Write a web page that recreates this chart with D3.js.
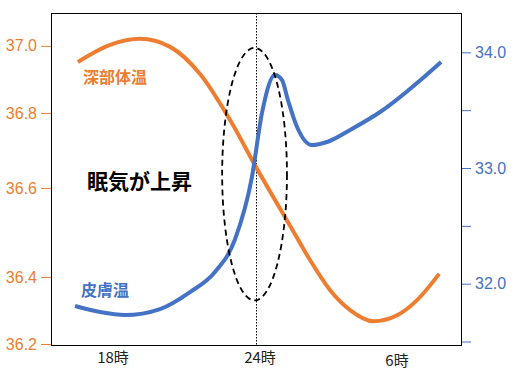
<!DOCTYPE html>
<html>
<head>
<meta charset="utf-8">
<script src="https://cdn.jsdelivr.net/npm/d3@7"></script>
<style>
  body { margin: 0; background: #fff; }
  text { font-family: "Noto Sans CJK JP", "Noto Sans", sans-serif; }
</style>
</head>
<body>
<svg width="518" height="372"></svg>
<script>
// hours (24 = midnight, 30 = 6時)
const deepHours = [16.58, 17.92, 19.17, 20.42, 21.67, 22.92, 24.0, 25.42, 26.25, 27.08, 27.92, 28.88, 29.88, 30.71, 31.63];
const deepTemp  = [36.952, 37.003, 37.021, 36.997, 36.916, 36.781, 36.656, 36.515, 36.438, 36.361, 36.301, 36.268, 36.286, 36.331, 36.407];

const skinHours = [16.46, 17.5, 18.54, 20.0, 21.25, 22.29, 23.13, 23.83, 24.25, 24.79, 25.08, 25.33, 25.71, 26.33, 26.96, 27.92, 29.17, 31.71];
const skinTemp  = [31.807, 31.755, 31.729, 31.781, 31.928, 32.101, 32.386, 32.922, 33.476, 33.804, 33.761, 33.588, 33.355, 33.199, 33.225, 33.329, 33.484, 33.916];

const leftTicks = [36.2, 36.4, 36.6, 36.8, 37.0];
const rightTicks = [31.5, 32.0, 32.5, 33.0, 33.5, 34.0];
const xTicks = [18, 24, 30];
const xTickLabels = ["18時", "24時", "6時"];

// annotation ellipse: centre hour, top / bottom (left-axis units), half width in hours
const ellipseHour = 23.94, ellipseTop = 36.994, ellipseBottom = 36.33, ellipseHalfHours = 1.35;

const orange = "#ED7D31", blue = "#4472C4";

const svg = d3.select("svg"),
      pLeft = 51, pRight = 461, pTop = 13, pBottom = 345,
      h = pBottom - pTop;

const x = d3.scaleLinear().domain([15.46, 32.54]).range([pLeft, pRight]);
// left axis in the picture is not evenly spaced
const yL = d3.scaleLinear().domain(leftTicks)
  .range([pBottom - 1, pBottom - 0.205 * h, pBottom - 0.473 * h, pBottom - 0.699 * h, pBottom - 0.901 * h]);
const yR = d3.scaleLinear().domain([31.47, 34.34]).range([pBottom, pTop]);

// axes
const gL = svg.append("g").attr("transform", `translate(${pLeft},0)`)
  .call(d3.axisLeft(yL).tickValues(leftTicks).tickSize(10).tickPadding(4).tickFormat(d3.format(".1f")));
gL.select(".domain").remove();
gL.selectAll("line").attr("stroke", orange);
gL.selectAll("text").attr("fill", orange).style("font-size", "16px").style("font-family", "'Liberation Sans', sans-serif");

const gR = svg.append("g").attr("transform", `translate(${pRight},0)`)
  .call(d3.axisRight(yR).tickValues(rightTicks).tickSize(10).tickPadding(4)
    .tickFormat(d => d % 1 === 0 ? d3.format(".1f")(d) : ""));
gR.select(".domain").remove();
gR.selectAll("line").attr("stroke", blue);
gR.selectAll("text").attr("fill", blue).style("font-size", "16px").style("font-family", "'Liberation Sans', sans-serif");

svg.append("g").selectAll("text")
  .data(xTicks)
  .enter().append("text")
  .attr("x", (d, i) => x(d) + [1, 4, -3][i])
  .attr("y", (d, i) => pBottom + [18, 18, 21][i])
  .attr("text-anchor", "middle")
  .attr("fill", "#222")
  .style("font-size", "15px")
  .text((d, i) => xTickLabels[i]);

// frame
svg.append("rect")
  .attr("x", pLeft + 0.5).attr("y", pTop + 0.5)
  .attr("width", pRight - pLeft).attr("height", pBottom - pTop)
  .attr("fill", "none").attr("stroke", "#000").attr("stroke-width", 1);

// midnight marker
svg.append("line")
  .attr("x1", x(24) + 0.5).attr("x2", x(24) + 0.5)
  .attr("y1", pTop).attr("y2", pBottom)
  .attr("stroke", "#000").attr("stroke-dasharray", "1.5,1.5");

const line = (ys) => d3.line().x(d => x(d[0])).y(d => ys(d[1])).curve(d3.curveMonotoneX);

svg.append("path")
  .datum(d3.zip(deepHours, deepTemp))
  .attr("d", line(yL))
  .attr("fill", "none").attr("stroke", orange).attr("stroke-width", 4);

svg.append("path")
  .datum(d3.zip(skinHours, skinTemp))
  .attr("d", line(yR))
  .attr("fill", "none").attr("stroke", blue).attr("stroke-width", 4);

// dashed ellipse
svg.append("ellipse")
  .attr("cx", x(ellipseHour))
  .attr("cy", (yL(ellipseTop) + yL(ellipseBottom)) / 2)
  .attr("rx", x(ellipseHour + ellipseHalfHours) - x(ellipseHour))
  .attr("ry", (yL(ellipseBottom) - yL(ellipseTop)) / 2)
  .attr("fill", "none").attr("stroke", "#000").attr("stroke-width", 1.8)
  .attr("stroke-dasharray", "6,4");

// labels
svg.append("text").attr("x", 83).attr("y", 77).attr("dy", "0.35em")
  .attr("fill", orange).style("font-size", "16px").style("font-weight", "bold").text("深部体温");
svg.append("text").attr("x", 81).attr("y", 290).attr("dy", "0.35em")
  .attr("fill", blue).style("font-size", "16px").style("font-weight", "bold").text("皮膚温");
svg.append("text").attr("x", 87).attr("y", 182).attr("dy", "0.35em")
  .attr("fill", "#000").style("font-size", "21px").style("font-weight", "bold").text("眠気が上昇");
</script>
</body>
</html>
